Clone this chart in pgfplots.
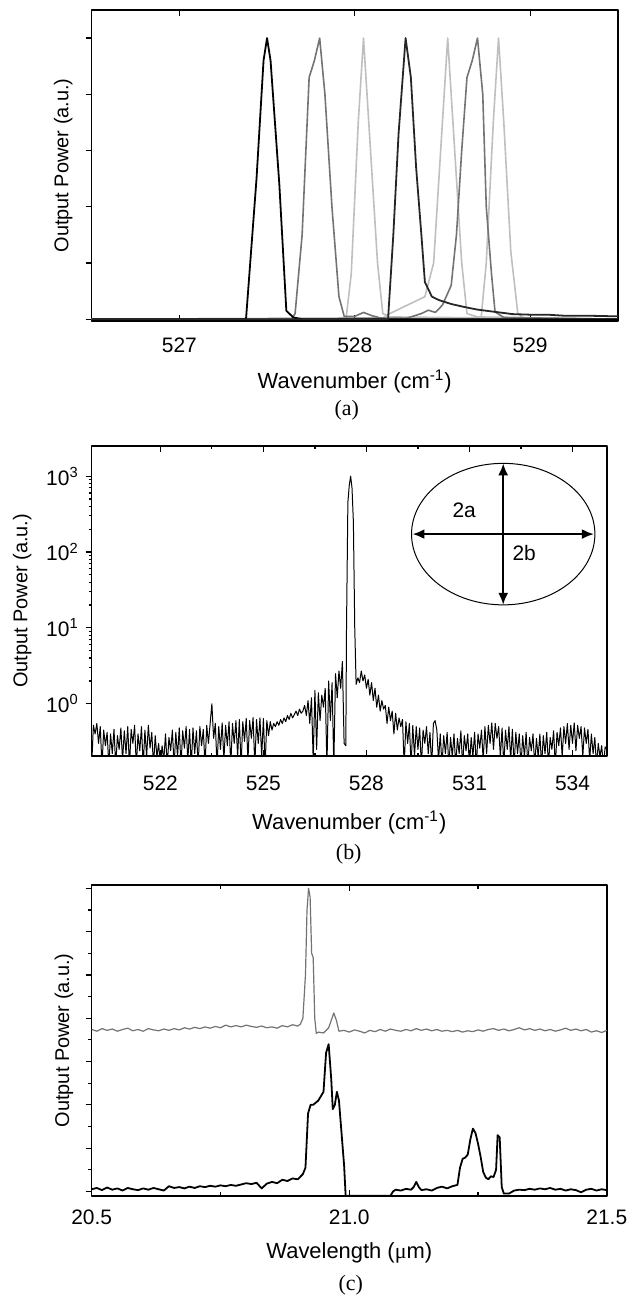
\documentclass[border=0pt]{standalone}
\usepackage{fontspec}
\setmainfont{Liberation Sans}
\newfontfamily\capfont{Liberation Serif}
\usepackage{pgfplots}
\pgfplotsset{compat=1.18}
\usetikzlibrary{arrows.meta}

\definecolor{mgray}{gray}{0.45}
\definecolor{lgray}{gray}{0.75}

\pgfplotsset{
  panel/.style={
    scale only axis, anchor=south west, no marks,
    axis line style={line width=0.8pt},
    every tick/.style={black, line width=0.6pt},
    major tick length=3pt, minor tick length=2pt,
    xtick pos=both, ytick pos=left,
    ytick align=outside,
    tick label style={font=\fontsize{10.5}{12}\selectfont},
    label style={font=\fontsize{11}{13}\selectfont},
    every axis y label/.style={at={(axis description cs:-0.054,0.5)}, rotate=90, anchor=center},
    line join=round,
  },
}

\begin{document}
\begin{tikzpicture}
\path (0,0) rectangle (314.5pt,-651pt);

% ---------- (a) ----------
\begin{axis}[panel, at={(46pt,-161pt)}, width=264pt, height=156pt,
  xmin=526.5, xmax=529.5, ymin=-0.03, ymax=5.5,
  xtick={527,528,529}, xticklabels={527,528,529},
  ytick={0,1,2,3,4,5}, yticklabels={},
  xticklabel style={yshift=-5pt},
  xlabel={Wavenumber (cm\textsuperscript{-1})},
  ylabel={Output Power (a.u.)},
  xlabel style={at={(axis description cs:0.5,-0.196)}, anchor=center}]
\addplot[lgray, line width=0.8pt] coordinates {
(526.5,0)(527.95,0)(527.98,0.8)(528.02,3.5)(528.05,5)(528.08,3.5)(528.13,1)(528.16,0.1)(528.2,0.04)(529.5,0)};
\addplot[lgray, line width=0.8pt] coordinates {
(526.5,0)(528.15,0)(528.2,0.1)(528.3,0.25)(528.4,0.4)(528.45,1.0)(528.5,3.5)(528.53,5)(528.57,3)(528.61,1)(528.64,0.1)(528.7,0.04)(529.5,0)};
\addplot[lgray, line width=0.8pt] coordinates {
(526.5,0)(528.72,0)(528.75,1)(528.79,3.5)(528.82,5)(528.85,3.5)(528.89,1.2)(528.93,0.1)(528.96,0.02)(529.5,0)};
\addplot[mgray, line width=0.8pt] coordinates {
(526.5,0)(527.64,0)(527.66,0.1)(527.70,1.5)(527.74,4.3)(527.77,4.6)(527.8,5)(527.83,4)(527.87,2)(527.91,0.4)(527.94,0.05)(528.0,0.05)(528.05,0.12)(528.1,0.06)(528.15,0.02)(528.2,0)(529.5,0)};
\addplot[mgray, line width=0.8pt] coordinates {
(526.5,0)(528.3,0.02)(528.38,0.1)(528.42,0.16)(528.46,0.12)(528.5,0.25)(528.55,0.6)(528.58,1.5)(528.61,3.0)(528.64,4.3)(528.67,4.6)(528.7,5)(528.73,4.0)(528.75,2.0)(528.78,0.8)(528.8,0.13)(528.85,0.03)(529.5,0)};
\addplot[black, line width=0.9pt] coordinates {
(526.5,0)(527.38,0)(527.44,2.5)(527.48,4.6)(527.5,5)(527.52,4.6)(527.57,2.4)(527.61,0.15)(527.65,0.03)(527.7,0)(529.5,0)};
\addplot[black!85, line width=0.9pt] coordinates {
(526.5,0)(528.19,0)(528.22,1.5)(528.25,3.3)(528.29,5)(528.32,4.3)(528.35,2.7)(528.38,1.5)(528.40,0.66)(528.44,0.4)(528.48,0.34)(528.55,0.27)(528.62,0.22)(528.7,0.17)(528.8,0.13)(528.9,0.09)(529.0,0.08)(529.1,0.08)(529.2,0.06)(529.35,0.06)(529.5,0.05)};
\end{axis}
\node[font=\capfont\fontsize{11}{13}\selectfont] at (174pt,-206pt) {(a)};

% ---------- (b) ----------
\begin{axis}[panel, at={(46pt,-379.25pt)}, width=258.5pt, height=155.5pt,
  ymode=log, xmin=520, xmax=535, ymin=0.206, ymax=2500,
  xtick={522,525,528,531,534}, xticklabels={522,525,528,531,534},
  minor x tick num=1,
  ytick={1,10,100,1000},
  yticklabels={10\textsuperscript{0},10\textsuperscript{1},10\textsuperscript{2},10\textsuperscript{3}},
  minor tick length=1.5pt,
  xticklabel style={yshift=-6.5pt},
  xlabel={Wavenumber (cm\textsuperscript{-1})},
  ylabel={Output Power (a.u.)},
  xlabel style={at={(axis description cs:0.5,-0.215)}, anchor=center},
  ylabel style={at={(axis description cs:-0.135,0.5)}}]
\addplot[black, line width=0.5pt] coordinates {
(520.00,0.15)(520.05,0.52)(520.10,0.40)(520.15,0.55)(520.20,0.30)(520.25,0.50)(520.30,0.15)(520.35,0.45)(520.40,0.28)(520.45,0.42)
(520.50,0.15)(520.55,0.40)(520.60,0.22)(520.65,0.46)(520.70,0.15)(520.75,0.38)(520.80,0.25)(520.85,0.48)(520.90,0.18)(520.95,0.44)
(521.00,0.22)(521.05,0.50)(521.10,0.15)(521.15,0.46)(521.20,0.30)(521.25,0.52)(521.30,0.15)(521.35,0.40)(521.40,0.24)(521.45,0.50)
(521.50,0.15)(521.55,0.45)(521.60,0.20)(521.65,0.52)(521.70,0.26)(521.75,0.42)(521.80,0.15)(521.85,0.38)(521.90,0.20)(521.95,0.30)
(522.00,0.15)(522.05,0.28)(522.10,0.18)(522.15,0.40)(522.20,0.15)(522.25,0.36)(522.30,0.24)(522.35,0.45)(522.40,0.15)(522.45,0.42)
(522.50,0.20)(522.55,0.48)(522.60,0.15)(522.65,0.44)(522.70,0.26)(522.75,0.50)(522.80,0.18)(522.85,0.46)(522.90,0.15)(522.95,0.48)
(523.00,0.22)(523.05,0.44)(523.10,0.15)(523.15,0.50)(523.20,0.28)(523.25,0.46)(523.30,0.15)(523.35,0.52)(523.40,0.30)(523.45,0.55)
(523.50,1.00)(523.55,0.35)(523.60,0.55)(523.65,0.15)(523.70,0.50)(523.75,0.25)(523.80,0.56)(523.85,0.18)(523.90,0.52)(523.95,0.28)
(524.00,0.58)(524.05,0.15)(524.10,0.55)(524.15,0.30)(524.20,0.60)(524.25,0.20)(524.30,0.62)(524.35,0.15)(524.40,0.58)(524.45,0.32)
(524.50,0.64)(524.55,0.18)(524.60,0.60)(524.65,0.35)(524.70,0.66)(524.75,0.15)(524.80,0.62)(524.85,0.30)(524.90,0.65)(524.95,0.20)
(525.00,0.64)(525.05,0.15)(525.10,0.60)(525.15,0.38)(525.20,0.58)(525.25,0.45)(525.30,0.55)(525.35,0.50)(525.40,0.58)(525.45,0.52)
(525.50,0.62)(525.55,0.55)(525.60,0.65)(525.65,0.58)(525.70,0.70)(525.75,0.62)(525.80,0.75)(525.85,0.65)(525.90,0.72)(525.95,0.80)
(526.00,0.70)(526.05,0.85)(526.10,0.75)(526.15,0.80)(526.20,0.95)(526.25,0.70)(526.30,1.10)(526.35,0.55)(526.40,1.20)(526.45,0.18)
(526.50,1.50)(526.55,0.25)(526.60,1.40)(526.65,0.60)(526.70,1.30)(526.75,0.90)(526.80,1.60)(526.85,0.15)(526.90,2.00)(526.95,0.60)
(527.00,1.90)(527.05,0.15)(527.10,2.50)(527.15,1.20)(527.20,2.70)(527.25,1.60)(527.30,3.60)(527.35,0.30)(527.40,0.28)(527.42,10)
(527.46,450)(527.50,750)(527.54,1000)(527.58,700)(527.62,250)(527.66,10)(527.70,1.8)(527.75,2.2)(527.80,1.9)(527.85,2.7)
(527.90,2.0)(527.95,2.4)(528.00,1.6)(528.05,2.1)(528.10,1.3)(528.15,1.9)(528.20,1.1)(528.25,1.6)(528.30,0.9)(528.35,1.3)
(528.40,0.8)(528.45,1.1)(528.50,0.85)(528.55,0.95)(528.60,0.55)(528.65,0.90)(528.70,0.60)(528.75,0.80)(528.80,0.40)(528.85,0.75)
(528.90,0.45)(528.95,0.65)(529.00,0.50)(529.05,0.62)(529.10,0.15)(529.15,0.58)(529.20,0.30)(529.25,0.55)(529.30,0.15)(529.35,0.52)
(529.40,0.20)(529.45,0.50)(529.50,0.25)(529.55,0.48)(529.60,0.15)(529.65,0.45)(529.70,0.30)(529.75,0.50)(529.80,0.22)(529.85,0.42)
(529.90,0.15)(529.95,0.55)(530.00,0.60)(530.05,0.45)(530.10,0.18)(530.15,0.40)(530.20,0.15)(530.25,0.38)(530.30,0.22)(530.35,0.42)
(530.40,0.15)(530.45,0.36)(530.50,0.20)(530.55,0.40)(530.60,0.15)(530.65,0.35)(530.70,0.22)(530.75,0.44)(530.80,0.15)(530.85,0.38)
(530.90,0.24)(530.95,0.40)(531.00,0.15)(531.05,0.36)(531.10,0.20)(531.15,0.42)(531.20,0.15)(531.25,0.40)(531.30,0.26)(531.35,0.45)
(531.40,0.18)(531.45,0.50)(531.50,0.22)(531.55,0.52)(531.60,0.30)(531.65,0.56)(531.70,0.25)(531.75,0.55)(531.80,0.35)(531.85,0.50)
(531.90,0.20)(531.95,0.48)(532.00,0.15)(532.05,0.45)(532.10,0.25)(532.15,0.50)(532.20,0.18)(532.25,0.46)(532.30,0.15)(532.35,0.42)
(532.40,0.22)(532.45,0.40)(532.50,0.15)(532.55,0.38)(532.60,0.20)(532.65,0.42)(532.70,0.15)(532.75,0.36)(532.80,0.24)(532.85,0.40)
(532.90,0.15)(532.95,0.35)(533.00,0.20)(533.05,0.40)(533.10,0.15)(533.15,0.38)(533.20,0.22)(533.25,0.42)(533.30,0.15)(533.35,0.36)
(533.40,0.25)(533.45,0.44)(533.50,0.15)(533.55,0.42)(533.60,0.28)(533.65,0.48)(533.70,0.20)(533.75,0.50)(533.80,0.30)(533.85,0.55)
(533.90,0.25)(533.95,0.52)(534.00,0.30)(534.05,0.56)(534.10,0.24)(534.15,0.52)(534.20,0.35)(534.25,0.50)(534.30,0.20)(534.35,0.48)
(534.40,0.30)(534.45,0.46)(534.50,0.18)(534.55,0.40)(534.60,0.22)(534.65,0.36)(534.70,0.15)(534.75,0.30)(534.80,0.20)(534.85,0.28)
(534.90,0.15)(534.95,0.27)(535.00,0.25)};
\end{axis}
% inset: mode cross-section (picture coordinates, centre at 505px,536px)
\draw[line width=0.5pt] (252.5pt,-268pt) ellipse [x radius=46pt, y radius=35.5pt];
\draw[line width=1pt, {Latex[length=6pt,width=5pt]}-{Latex[length=6pt,width=5pt]}]
  (207pt,-268pt) -- (298pt,-268pt);
\draw[line width=1pt, {Latex[length=6pt,width=5pt]}-{Latex[length=6pt,width=5pt]}]
  (252.5pt,-232.5pt) -- (252.5pt,-303.5pt);
\node[font=\fontsize{10.5}{12}\selectfont] at (232.9pt,-256pt) {2a};
\node[font=\fontsize{10.5}{12}\selectfont] at (263pt,-277.5pt) {2b};
\node[font=\capfont\fontsize{11}{13}\selectfont] at (175pt,-428.5pt) {(b)};

% ---------- (c) ----------
\begin{axis}[panel, at={(46pt,-600pt)}, width=258.5pt, height=156pt,
  xmin=20.5, xmax=21.5, ymin=-0.1, ymax=7.08,
  xtick={20.5,21.0,21.5}, xticklabels={20.5,21.0,21.5},
  minor x tick num=1,
  ytick={0,1,2,3,4,5,6,7}, yticklabels={}, minor y tick num=1,
  xticklabel style={yshift=-3.5pt},
  xlabel={Wavelength ({\capfont μ}m)},
  ylabel={Output Power (a.u.)},
  xlabel style={at={(axis description cs:0.5,-0.183)}, anchor=center}]
\addplot[mgray, line width=0.6pt] coordinates {
(20.50,3.74)(20.51,3.70)(20.52,3.76)(20.53,3.72)(20.54,3.75)(20.55,3.70)(20.56,3.74)(20.57,3.77)(20.58,3.71)(20.59,3.74)
(20.60,3.70)(20.61,3.76)(20.62,3.73)(20.63,3.71)(20.64,3.75)(20.65,3.72)(20.66,3.76)(20.67,3.73)(20.68,3.78)(20.69,3.75)
(20.70,3.79)(20.71,3.76)(20.72,3.80)(20.73,3.77)(20.74,3.81)(20.75,3.78)(20.76,3.84)(20.77,3.80)(20.78,3.83)(20.79,3.80)
(20.80,3.84)(20.81,3.81)(20.82,3.79)(20.83,3.82)(20.84,3.78)(20.85,3.80)(20.86,3.77)(20.87,3.83)(20.88,3.80)(20.89,3.85)
(20.90,3.82)(20.905,3.86)(20.91,4.0)(20.915,5.0)(20.918,6.5)(20.921,7.0)(20.924,6.8)(20.927,5.5)(20.930,5.4)(20.933,4.0)
(20.936,3.65)(20.94,3.68)(20.95,3.66)(20.96,3.78)(20.965,3.95)(20.97,4.12)(20.975,3.95)(20.98,3.70)(20.99,3.72)
(21.00,3.68)(21.01,3.73)(21.02,3.70)(21.03,3.66)(21.04,3.72)(21.05,3.69)(21.06,3.74)(21.07,3.70)(21.08,3.75)(21.09,3.72)
(21.10,3.70)(21.11,3.74)(21.12,3.71)(21.13,3.76)(21.14,3.72)(21.15,3.75)(21.16,3.71)(21.17,3.74)(21.18,3.70)(21.19,3.72)
(21.20,3.69)(21.21,3.72)(21.22,3.68)(21.23,3.71)(21.24,3.69)(21.25,3.73)(21.26,3.70)(21.27,3.74)(21.28,3.76)(21.29,3.72)
(21.30,3.75)(21.31,3.71)(21.32,3.74)(21.33,3.78)(21.34,3.73)(21.35,3.76)(21.36,3.72)(21.37,3.75)(21.38,3.71)(21.39,3.74)
(21.40,3.70)(21.41,3.73)(21.42,3.77)(21.43,3.72)(21.44,3.75)(21.45,3.71)(21.46,3.74)(21.47,3.68)(21.48,3.71)(21.49,3.67)(21.50,3.72)};
\addplot[black, line width=0.9pt] coordinates {
(20.50,0.05)(20.51,0.08)(20.52,0.03)(20.53,0.09)(20.54,0.04)(20.55,0.07)(20.56,0.02)(20.57,0.08)(20.58,0.05)(20.59,0.03)
(20.60,0.07)(20.61,0.04)(20.62,0.08)(20.63,0.05)(20.64,0.02)(20.65,0.12)(20.66,0.08)(20.67,0.10)(20.68,0.07)(20.69,0.11)
(20.70,0.08)(20.71,0.12)(20.72,0.10)(20.73,0.13)(20.74,0.11)(20.75,0.14)(20.76,0.12)(20.77,0.15)(20.78,0.13)(20.79,0.16)
(20.80,0.19)(20.81,0.17)(20.82,0.20)(20.83,0.07)(20.84,0.18)(20.85,0.22)(20.86,0.19)(20.87,0.27)(20.88,0.24)(20.89,0.30)
(20.90,0.28)(20.91,0.40)(20.915,0.55)(20.92,1.8)(20.925,2.0)(20.93,2.0)(20.935,2.05)(20.94,2.1)(20.945,2.2)(20.95,2.3)
(20.955,3.2)(20.96,3.4)(20.965,2.6)(20.968,1.9)(20.972,2.0)(20.976,2.3)(20.98,2.1)(20.984,1.5)(20.99,0.6)(20.993,-0.1)
(21.08,-0.1)(21.085,0.0)(21.09,0.04)(21.10,0.02)(21.11,0.06)(21.12,0.04)(21.125,0.10)(21.13,0.22)(21.135,0.10)(21.14,0.03)
(21.15,0.05)(21.16,0.02)(21.17,0.08)(21.18,0.11)(21.19,0.07)(21.20,0.12)(21.21,0.15)(21.215,0.55)(21.22,0.75)(21.225,0.78)
(21.23,0.85)(21.235,1.2)(21.24,1.45)(21.245,1.35)(21.25,1.1)(21.255,0.8)(21.26,0.45)(21.265,0.32)(21.27,0.28)(21.275,0.35)
(21.28,0.33)(21.285,0.5)(21.288,1.3)(21.292,1.25)(21.296,0.1)(21.30,-0.05)(21.31,-0.05)(21.32,0.02)(21.33,0.04)(21.34,0.03)
(21.35,0.06)(21.36,0.04)(21.37,0.07)(21.38,0.05)(21.39,0.08)(21.40,0.04)(21.41,0.06)(21.42,0.02)(21.43,0.05)(21.44,0.03)
(21.45,-0.02)(21.46,0.04)(21.47,0.06)(21.48,0.02)(21.49,0.05)(21.50,0.03)};
\end{axis}
\node[font=\capfont\fontsize{11}{13}\selectfont] at (176pt,-645pt) {(c)};
\end{tikzpicture}
\end{document}
